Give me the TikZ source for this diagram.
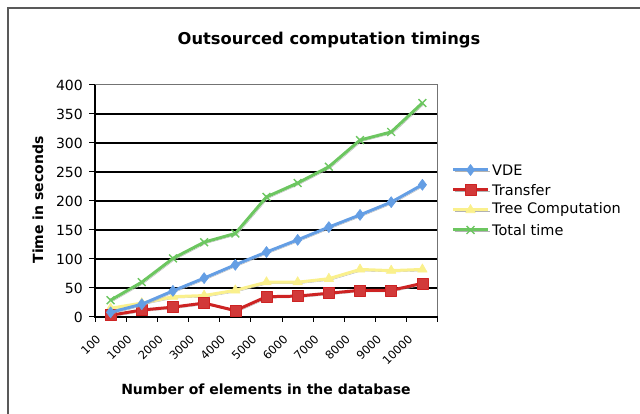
\documentclass[tikz,border=0pt]{standalone}
\usepackage{fontspec}
\setmainfont{DejaVu Sans}
\usepackage{tikz}
\usetikzlibrary{plotmarks}

\definecolor{vdeblue}{RGB}{100,158,228}
\definecolor{transferred}{RGB}{205,35,35}
\definecolor{treeyellow}{RGB}{250,240,140}
\definecolor{totalgreen}{RGB}{108,198,96}

\begin{document}
\begin{tikzpicture}[
    x=1pt, y=1pt,
    frame/.style={
		draw=black!65,
		line width=1.3pt
	},
	charttitle/.style={
		font=\fontsize{16.3}{18}\selectfont\bfseries,
		inner sep=0pt
	},
	axistitle/.style={
		font=\fontsize{14}{16}\selectfont\bfseries,
		inner sep=0pt
	},
	yticklabel/.style={
		font=\fontsize{14}{16}\selectfont,
		anchor=east,
		inner sep=0pt
	},
	xticklabel/.style={
		font=\fontsize{11.5}{13}\selectfont,
		anchor=east,
		rotate=45,
		inner sep=0pt
	},
	legendtext/.style={
		font=\fontsize{14.5}{16}\selectfont,
		anchor=west,
		inner sep=0pt
	},
	grid/.style={
		draw=black,
		line width=1.1pt
	},
	series/.style={
		line width=3pt,
		line join=round,
		preaction={draw=black!30, transform canvas={xshift=1.5pt, yshift=-1.5pt}},
		mark size=5.5pt
	},
	vde/.style={series, draw=vdeblue, mark options={solid, line width=0.6pt, fill=vdeblue}},
	transfer/.style={series, draw=transferred, mark options={solid, line width=0.6pt, fill=transferred!90!white}},
	tree/.style={series, draw=treeyellow, mark options={solid, line width=0.6pt, fill=treeyellow}},
	total/.style={series, draw=totalgreen, mark options={solid, line width=1.4pt}}
  ]

 \useasboundingbox (0,0) rectangle (640,414);

% // The frame
 \draw [frame] (8,-2) -- (8,406) -- (642,406);

 \node [charttitle] (title) at (329,374) {Outsourced computation timings};

% // The plot area
\begin{scope}[shift={(95,97)}, x=31.18pt, y=0.58pt]
 \foreach \v in {50,100,...,350}
  \draw [grid] (0,\v) -- (11,\v);
 \draw [draw=black!55, line width=1pt] (0,400) -- (11,400) -- (11,0);
 \draw [grid] (0,400) -- (0,0) -- (11,0);

% y axis
 \foreach \v in {0,50,...,400} {
  \draw [line width=1pt] (0,\v) -- ++(-6pt,0);
  \node [yticklabel, xshift=-12pt] (yl\v) at (0,\v) {\v};
 }

% x axis
 \foreach \k in {0,...,11}
  \draw [line width=1pt] (\k,0) -- ++(0,-5pt);
 \foreach \lab [count=\i from 0] in {100,1000,2000,3000,4000,5000,6000,7000,8000,9000,10000}
  \node [xshift=-12pt, yshift=-20pt, xticklabel] (xl\i) at (\i+0.5,0) {\lab};

% // The series
 \draw [tree] plot [mark=triangle*] coordinates {(0.5,15) (1.5,24) (2.5,35) (3.5,37) (4.5,46) (5.5,60) (6.5,60) (7.5,66) (8.5,82) (9.5,80) (10.5,82)};
 \draw [transfer] plot [mark=square*] coordinates {(0.5,3) (1.5,12) (2.5,17) (3.5,24) (4.5,11) (5.5,35) (6.5,36) (7.5,41) (8.5,46) (9.5,46) (10.5,58)};
 \draw [vde] plot [mark=diamond*] coordinates {(0.5,8) (1.5,22) (2.5,45) (3.5,67) (4.5,90) (5.5,112) (6.5,133) (7.5,155) (8.5,176) (9.5,198) (10.5,228)};
 \draw [total] plot [mark=x] coordinates {(0.5,29) (1.5,60) (2.5,101) (3.5,129) (4.5,144) (5.5,207) (6.5,231) (7.5,259) (8.5,305) (9.5,319) (10.5,369)};
\end{scope}

 \node [axistitle, rotate=90] (ytitle) at (38,214) {Time in seconds};
 \node [axistitle] (xtitle) at (266,25) {Number of elements in the database};

% // The legend
 \coordinate (vdeA) at (453,244);      \coordinate (vdeB) at (488,244);
 \coordinate (transferA) at (453,224); \coordinate (transferB) at (488,224);
 \coordinate (treeA) at (453,204);     \coordinate (treeB) at (488,204);
 \coordinate (totalA) at (453,184);    \coordinate (totalB) at (488,184);

 \draw [vde] (vdeA) -- (vdeB);
 \draw [vde] plot [mark=diamond*] coordinates {(470.5,244)};
 \node [legendtext] (legvde) at (492,244) {VDE};

 \draw [transfer] (transferA) -- (transferB);
 \draw [transfer] plot [mark=square*] coordinates {(470.5,224)};
 \node [legendtext] (legtransfer) at (492,224) {Transfer};

 \draw [tree] (treeA) -- (treeB);
 \draw [tree] plot [mark=triangle*] coordinates {(470.5,204)};
 \node [legendtext] (legtree) at (492,204) {Tree Computation};

 \draw [total] (totalA) -- (totalB);
 \draw [total] plot [mark=x] coordinates {(470.5,184)};
 \node [legendtext] (legtotal) at (492,184) {Total time};

\end{tikzpicture}
\end{document}
